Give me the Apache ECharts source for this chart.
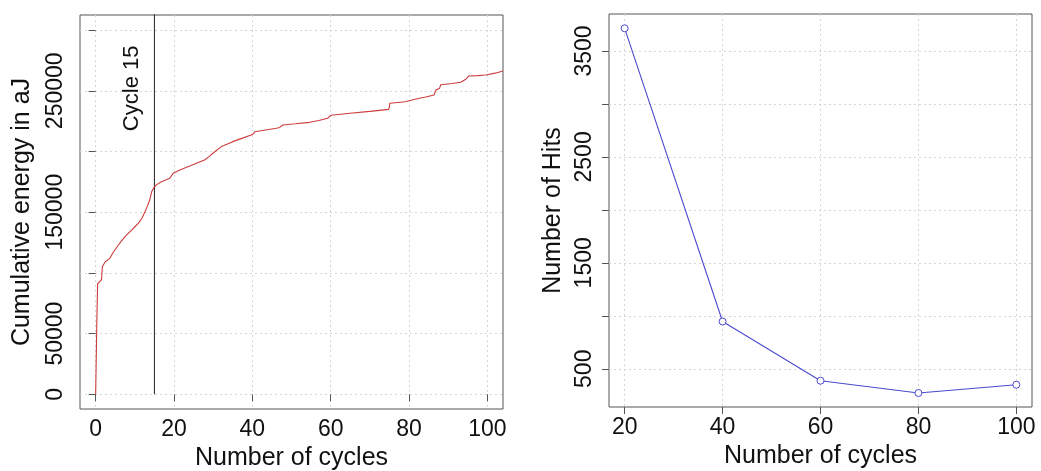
<!DOCTYPE html>
<html>
<head>
<meta charset="utf-8">
<script src="https://cdn.jsdelivr.net/npm/echarts@6/dist/echarts.min.js"></script>
<style>
html,body{margin:0;padding:0;background:#fff;}
#chart{width:1041px;height:471px;}
</style>
</head>
<body>
<div id="chart"></div>
<script>
// Left panel: cumulative energy vs number of cycles
const energyCycles = [0,0.3,0.5,0.8,1.5,1.7,2.4,3.0,3.6,4.5,5.0,5.8,6.5,7.5,8.3,9.2,10.0,10.9,11.8,12.6,13.2,13.8,14.3,14.85,15.5,16.8,18.9,19.3,19.8,21.5,24.0,27.8,29.0,30.4,32.1,33.5,35.0,37.5,39.7,40.3,40.6,43.0,46.1,47.0,47.8,51.0,54.6,57.0,59.2,59.6,60.1,65.0,70.0,74.8,75.0,75.1,79.0,82.6,84.0,86.4,86.6,86.9,87.8,88.1,91.0,93.2,94.5,95.3,97.5,99.6,102.0,104.0];
const energyValues = [0,60000,91000,92500,94500,105000,109000,110500,112000,117000,118500,123000,126000,129800,132500,135300,138000,140800,145000,150400,155000,160000,166900,170200,172500,175100,177900,178500,182000,184800,188000,193000,196000,199800,204000,206000,208100,211000,213600,214500,216300,217500,219100,219800,221800,222800,224000,225500,227300,228500,229800,231500,233000,234700,237000,239700,241000,243800,244600,246500,248500,250700,252000,255000,256000,257000,259500,262200,262500,263000,264500,266300];
const markerCycle = 15;
const markerText = 'Cycle 15';
const markerTextPos = [9.2, 252000];
const leftXTicks = [0,20,40,60,80,100];
const leftYTicks = [0,50000,100000,150000,200000,250000,300000];
const leftYLabels = [0,50000,150000,250000];

// Right panel: number of hits vs number of cycles
const hitCycles = [20,40,60,80,100];
const hitValues = [3714,946,387,271,349];
const rightXTicks = [20,40,60,80,100];
const rightYTicks = [500,1000,1500,2000,2500,3000,3500];
const rightYLabels = [500,1500,2500,3500];

const FONT = '"Liberation Sans", Arial, sans-serif';
const TXT = '#111';
const BOX = '#555';
const gridLine = {show:true, lineStyle:{color:'#d6d6d6', type:[2,3], width:1}};
const plain = v => String(v);

function xAxisCfg(idx, min, max, ticks){
  return {
    type:'value', gridIndex:idx, min:min, max:max,
    axisLine:{show:false},
    axisTick:{show:true, length:7, customValues:ticks, lineStyle:{color:BOX}},
    axisLabel:{show:true, customValues:ticks, formatter:plain, margin:9, fontSize:23, color:TXT, fontFamily:FONT},
    splitLine:gridLine,
    name:'Number of cycles', nameLocation:'middle', nameGap:36,
    nameTextStyle:{fontSize:25, color:TXT, fontFamily:FONT}
  };
}
function yAxisCfg(idx, min, max, ticks, labels, name, labelMargin, nameGap){
  return {
    type:'value', gridIndex:idx, min:min, max:max,
    axisLine:{show:false},
    axisTick:{show:true, length:7, customValues:ticks, lineStyle:{color:BOX}},
    axisLabel:{show:true, customValues:labels, formatter:plain, rotate:90, margin:labelMargin, fontSize:23, color:TXT, fontFamily:FONT},
    splitLine:gridLine,
    name:name, nameLocation:'middle', nameGap:nameGap, nameRotate:90,
    nameTextStyle:{fontSize:25, color:TXT, fontFamily:FONT}
  };
}

const chart = echarts.init(document.getElementById('chart'), null, {renderer:'canvas'});
chart.setOption({
  backgroundColor:'#fff',
  animation:false,
  grid:[
    {left:80, top:15, width:423, height:394, show:true, borderColor:BOX, borderWidth:1, backgroundColor:'transparent', containLabel:false, outerBoundsMode:'none'},
    {left:609, top:14, width:423, height:393, show:true, borderColor:BOX, borderWidth:1, backgroundColor:'transparent', containLabel:false, outerBoundsMode:'none'}
  ],
  xAxis:[
    xAxisCfg(0, -4, 104, leftXTicks),
    xAxisCfg(1, 16.8, 103.2, rightXTicks)
  ],
  yAxis:[
    yAxisCfg(0, -12100, 312400, leftYTicks, leftYLabels, 'Cumulative energy in aJ', 13, 45),
    yAxisCfg(1, 139, 3849, rightYTicks, rightYLabels, 'Number of Hits', 13, 43)
  ],
  series:[
    {
      type:'line', xAxisIndex:0, yAxisIndex:0,
      data:energyCycles.map((c,i)=>[c, energyValues[i]]),
      symbol:'none', lineStyle:{color:'#cc3c3c', width:1.1}, clip:true, z:3
    },
    {
      type:'line', xAxisIndex:0, yAxisIndex:0,
      data:[[markerCycle,0],[markerCycle,400000]],
      symbol:'none', lineStyle:{color:'#222', width:1}, clip:true, z:2
    },
    {
      type:'scatter', xAxisIndex:0, yAxisIndex:0,
      data:[markerTextPos], symbolSize:0,
      itemStyle:{opacity:1},
      label:{show:true, position:'inside', rotate:90, formatter:markerText, fontSize:22, color:TXT, fontFamily:FONT},
      silent:true
    },
    {
      type:'line', xAxisIndex:1, yAxisIndex:1,
      data:hitCycles.map((c,i)=>[c, hitValues[i]]),
      symbol:'circle', symbolSize:7, showAllSymbol:true,
      itemStyle:{color:'#fff', borderColor:'#4a4ad0', borderWidth:1},
      lineStyle:{color:'#4a4ad0', width:1.1}
    }
  ]
});
</script>
</body>
</html>
